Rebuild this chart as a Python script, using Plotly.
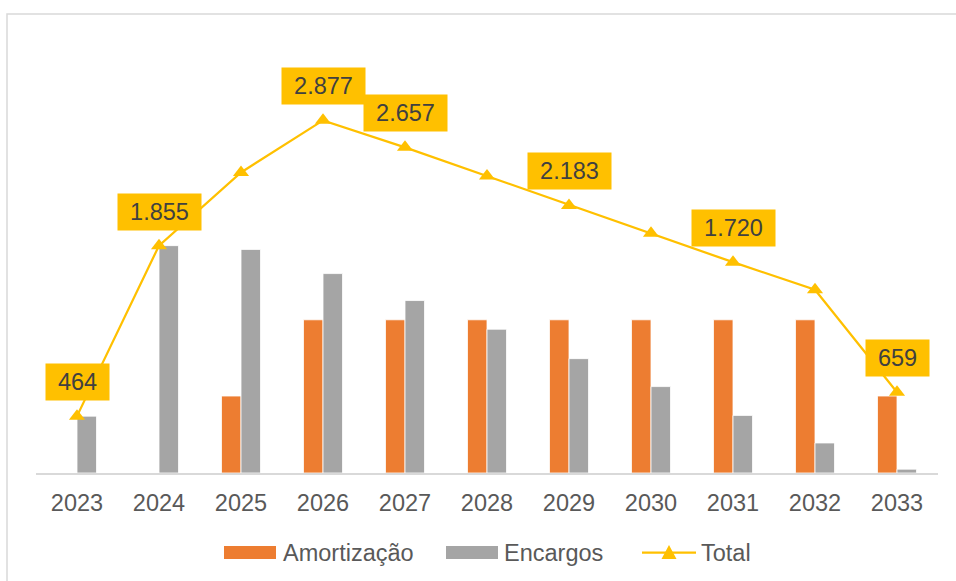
import plotly.graph_objects as go

years = ["2023", "2024", "2025", "2026", "2027", "2028", "2029", "2030", "2031", "2032", "2033"]
amortizacao = [0, 0, 628, 1250, 1250, 1250, 1250, 1250, 1250, 1250, 628]
encargos = [464, 1855, 1824, 1627, 1407, 1173, 933, 705, 470, 245, 31]
total = [464, 1855, 2452, 2877, 2657, 2423, 2183, 1955, 1720, 1495, 659]
total_labels = ["464", "1.855", "", "2.877", "2.657", "", "2.183", "", "1.720", "", "659"]

ORANGE = "#ED7D31"
GRAY = "#A5A5A5"
YELLOW = "#FFC000"
FONT = "Arial, Liberation Sans, sans-serif"
FS = 23.5

W, H = 956, 581
ML, MR, MT, MB = 36, 18, 44, 108
PW = W - ML - MR
PH = H - MT - MB


def px_x(p):
    return (p - ML) / PW


def px_y(p):
    return (H - MB - p) / PH


fig = go.Figure()
fig.add_trace(go.Bar(x=years, y=amortizacao, name="Amortização",
                     marker=dict(color=ORANGE, line=dict(color="white", width=0.8)),
                     showlegend=False))
fig.add_trace(go.Bar(x=years, y=encargos, name="Encargos",
                     marker=dict(color=GRAY, line=dict(color="white", width=0.8)),
                     showlegend=False))
fig.add_trace(go.Scatter(x=years, y=total, name="Total", mode="lines+markers",
                         line=dict(color=YELLOW, width=2.25),
                         marker=dict(symbol="triangle-up", size=14, color=YELLOW),
                         showlegend=False))

annotations = []
for i, (v, lab) in enumerate(zip(total, total_labels)):
    if not lab:
        continue
    annotations.append(dict(
        x=i, y=v, xref="x", yref="y", text=lab, showarrow=False,
        yanchor="bottom", xanchor="center", yshift=15,
        bgcolor=YELLOW, borderpad=3,
        width=77 if len(lab) > 3 else 57, height=30,
        font=dict(family=FONT, size=FS, color="#404040"),
    ))

# manual legend
legend_font = dict(family=FONT, size=FS, color="#595959")
shapes = [
    # outer chart frame
    dict(type="rect", xref="paper", yref="paper",
         x0=px_x(7), x1=px_x(962), y0=px_y(590), y1=px_y(14),
         line=dict(color="#D9D9D9", width=1.5), fillcolor="rgba(0,0,0,0)", layer="below"),
    dict(type="rect", xref="paper", yref="paper",
         x0=px_x(224), x1=px_x(276), y0=px_y(559), y1=px_y(546),
         line=dict(width=0), fillcolor=ORANGE),
    dict(type="rect", xref="paper", yref="paper",
         x0=px_x(446), x1=px_x(498), y0=px_y(559), y1=px_y(546),
         line=dict(width=0), fillcolor=GRAY),
    dict(type="line", xref="paper", yref="paper",
         x0=px_x(642), x1=px_x(696), y0=px_y(552.5), y1=px_y(552.5),
         line=dict(color=YELLOW, width=2.25)),
    dict(type="path", xref="paper", yref="paper",
         path="M {} {} L {} {} L {} {} Z".format(px_x(661.5), px_y(559), px_x(676.5), px_y(559),
                                                 px_x(669), px_y(545)),
         line=dict(width=0), fillcolor=YELLOW),
]
for txt, xpx in [("Amortização", 281), ("Encargos", 502), ("Total", 699)]:
    annotations.append(dict(x=px_x(xpx), y=px_y(552.5), xref="paper", yref="paper",
                            text=txt, showarrow=False, xanchor="left", yanchor="middle",
                            font=legend_font))

fig.update_layout(
    width=W, height=H,
    margin=dict(l=ML, r=MR, t=MT, b=MB),
    paper_bgcolor="white", plot_bgcolor="white",
    barmode="group", bargap=0.524, bargroupgap=0,
    font=dict(family=FONT, size=FS, color="#595959"),
    xaxis=dict(type="category", range=[-0.5, 10.5], showgrid=False,
               showline=True, linecolor="#D9D9D9", linewidth=1.5,
               ticks="", ticklabelstandoff=8,
               tickfont=dict(family=FONT, size=FS, color="#595959")),
    yaxis=dict(range=[0, 3500], visible=False, showgrid=False, zeroline=False),
    annotations=annotations,
    shapes=shapes,
    showlegend=False,
)

fig.write_html("out.html")
